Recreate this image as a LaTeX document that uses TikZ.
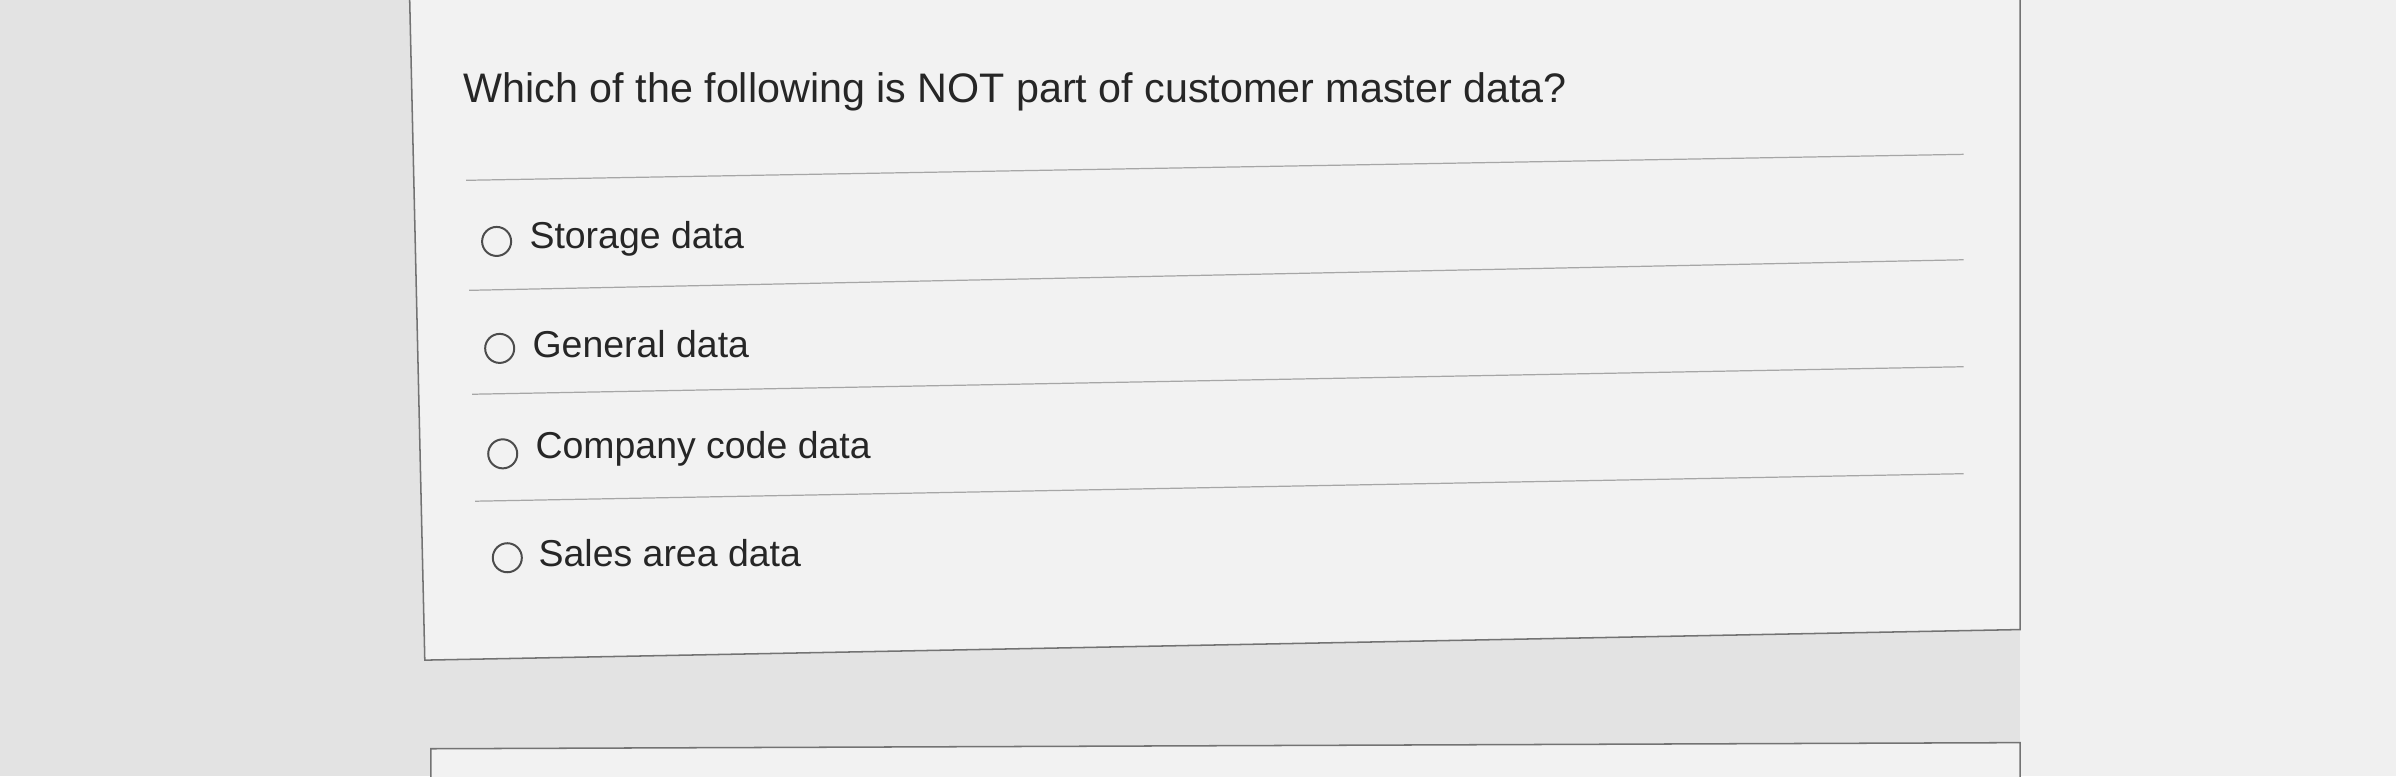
\documentclass[tikz,border=0pt]{standalone}
\usepackage{fontspec}
\setmainfont{Liberation Sans}
\begin{document}
\begin{tikzpicture}[x=1pt,y=-1pt,
  sep/.style={draw=black!35,line width=0.8pt},
  radio/.style={circle,draw=black!70,line width=1.3pt,minimum size=19pt,inner sep=0pt,fill=white!95!black},
  opt/.style={anchor=west,font=\fontsize{24.5}{28}\selectfont,text=black!85},
  panel/.style={draw=black!55,line width=1pt,fill=black!5}]
\useasboundingbox (0,0) rectangle (1568,508);
\clip (0,0) rectangle (1568,508);
\fill[black!11] (0,0) rectangle (1568,508);
\fill[black!6] (1322,0) rectangle (1568,508);
\path[panel] (268,-5) -- (1322,-5) -- (1322,412) -- (278,432) -- cycle;
\path[panel] (282,490) -- (1322,486) -- (1322,515) -- (282,515) -- cycle;
\node[anchor=west,font=\fontsize{27}{30}\selectfont,text=black!85] (q) at (300,60) {Which of the following is NOT part of customer master data?};
\coordinate (l0a) at (305,118); \coordinate (l0b) at (1285,101);
\draw[sep] (l0a) -- (l0b);
\node[radio] (r1) at (325,158) {}; \node[opt] (t1) at (343,156) {Storage data};
\coordinate (l1a) at (307,190); \coordinate (l1b) at (1285,170);
\draw[sep] (l1a) -- (l1b);
\node[radio] (r2) at (327,228) {}; \node[opt] (t2) at (345,225) {General data};
\coordinate (l2a) at (309,258); \coordinate (l2b) at (1285,240);
\draw[sep] (l2a) -- (l2b);
\node[radio] (r3) at (329,297) {}; \node[opt] (t3) at (347,294) {Company code data};
\coordinate (l3a) at (311,328); \coordinate (l3b) at (1285,310);
\draw[sep] (l3a) -- (l3b);
\node[radio] (r4) at (332,365) {}; \node[opt] (t4) at (349,362) {Sales area data};
\end{tikzpicture}
\end{document}
